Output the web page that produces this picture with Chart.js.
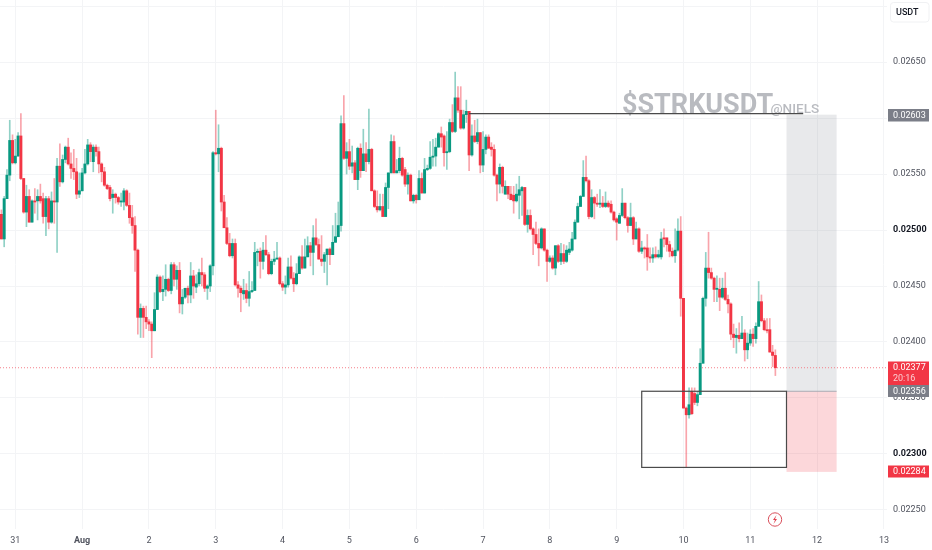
<!DOCTYPE html>
<html>
<head>
<meta charset="utf-8">
<title>STRKUSDT</title>
<script src="https://cdn.jsdelivr.net/npm/chart.js@4"></script>
<style>
html,body{margin:0;padding:0;background:#fff;}
canvas{display:block;}
</style>
</head>
<body>
<canvas id="charts" width="932" height="550"></canvas>
<script>
// all prices are in 0.00001 USDT, hourly candles, first one starts 5h before Jul 31
const opens = [2514,2492,2528,2549,2580,
2560,2566,2584,2546,2516,2530,2507,2526,2526,2530,
2528,2512,2528,2507,2526,2525,2557,2543,2563,2574,
2559,2555,2552,2532,2535,2551,2559,2576,2561,2574,
2570,2559,2552,2540,2538,2529,2532,2529,2525,2525,
2535,2522,2511,2504,2482,2422,2430,2422,2418,2416,
2410,2429,2458,2445,2447,2456,2446,2469,2456,2464,
2434,2440,2448,2442,2459,2449,2452,2462,2460,2448,
2450,2468,2569,2568,2573,2525,2502,2488,2477,2488,
2451,2448,2443,2446,2439,2445,2446,2480,2481,2472,
2482,2478,2461,2472,2474,2475,2452,2449,2451,2467,
2457,2452,2461,2476,2466,2476,2486,2480,2493,2487,
2474,2472,2478,2483,2478,2489,2494,2504,2595,2564,
2570,2557,2560,2545,2573,2553,2568,2561,2572,2535,
2521,2518,2521,2512,2538,2551,2579,2551,2553,2564,
2554,2541,2549,2526,2531,2527,2546,2533,2554,2555,
2565,2566,2574,2586,2584,2569,2570,2596,2588,2618,
2607,2591,2603,2606,2567,2584,2579,2587,2558,2572,
2583,2574,2572,2549,2541,2556,2532,2539,2532,2531,
2526,2531,2535,2538,2505,2513,2501,2496,2488,2484,
2501,2482,2472,2475,2466,2486,2472,2479,2472,2480,
2482,2492,2507,2521,2530,2547,2544,2512,2529,2524,
2523,2524,2521,2524,2523,2516,2510,2506,2513,2524,
2511,2504,2511,2492,2501,2481,2484,2484,2476,2475,
2478,2476,2476,2493,2493,2487,2481,2477,2482,2499,
2439,2341,2335,2356,2354,2346,2353,2381,2439,2466,
2462,2457,2447,2447,2440,2448,2438,2434,2407,2404,
2406,2403,2408,2393,2399,2407,2403,2414,2436,2419,
2411,2411,2391,2388];
const highs = [2518,2530,2554,2598,2585,
2581,2587,2604,2546,2540,2536,2527,2537,2536,2541,
2533,2530,2530,2534,2546,2564,2577,2567,2575,2582,
2569,2572,2564,2551,2555,2572,2581,2578,2576,2576,
2574,2560,2556,2541,2540,2536,2533,2530,2533,2537,
2536,2533,2522,2512,2483,2434,2432,2432,2420,2418,
2444,2460,2459,2459,2469,2457,2471,2471,2468,2471,
2447,2448,2450,2471,2464,2460,2465,2475,2462,2451,
2469,2570,2607,2594,2574,2531,2511,2497,2492,2492,
2454,2450,2456,2452,2463,2454,2489,2483,2484,2489,
2495,2480,2474,2481,2489,2476,2454,2459,2475,2477,
2462,2470,2477,2486,2492,2494,2489,2504,2510,2492,
2495,2480,2483,2484,2504,2515,2525,2602,2620,2578,
2581,2575,2562,2574,2577,2590,2578,2608,2573,2536,
2535,2532,2532,2542,2551,2585,2584,2563,2574,2565,
2556,2551,2550,2532,2532,2553,2551,2564,2558,2579,
2581,2582,2587,2592,2585,2588,2599,2612,2641,2628,
2628,2607,2616,2606,2594,2598,2599,2587,2588,2585,
2585,2578,2576,2550,2559,2557,2544,2539,2539,2539,
2541,2548,2539,2538,2518,2518,2502,2507,2501,2502,
2501,2483,2477,2477,2486,2487,2488,2487,2486,2489,
2498,2509,2524,2531,2562,2566,2545,2536,2530,2532,
2536,2530,2534,2526,2526,2517,2511,2515,2537,2524,
2512,2524,2512,2507,2502,2490,2485,2496,2484,2484,
2485,2482,2498,2501,2493,2490,2484,2501,2510,2512,
2439,2342,2359,2359,2359,2356,2394,2440,2480,2498,
2466,2458,2459,2457,2457,2462,2442,2435,2416,2412,
2417,2423,2411,2408,2411,2412,2417,2454,2442,2421,
2421,2421,2397,2393];
const lows = [2492,2485,2528,2544,2559,
2559,2566,2545,2515,2503,2507,2507,2515,2509,2524,
2506,2495,2501,2506,2506,2480,2539,2542,2560,2558,
2546,2545,2528,2529,2535,2550,2558,2561,2552,2566,
2551,2543,2539,2536,2526,2515,2524,2523,2521,2518,
2521,2506,2497,2463,2407,2404,2404,2412,2410,2386,
2410,2429,2444,2437,2441,2445,2443,2450,2447,2426,
2425,2439,2435,2435,2439,2444,2450,2450,2445,2438,
2445,2460,2567,2552,2517,2502,2487,2476,2475,2450,
2440,2427,2438,2435,2432,2444,2446,2468,2457,2465,
2477,2460,2460,2469,2474,2451,2446,2443,2449,2456,
2445,2451,2461,2465,2466,2476,2468,2460,2486,2474,
2468,2462,2451,2469,2478,2489,2494,2499,2563,2550,
2554,2551,2545,2536,2547,2553,2552,2559,2535,2520,
2516,2517,2512,2512,2519,2551,2551,2551,2551,2548,
2539,2532,2526,2524,2524,2527,2533,2533,2553,2554,
2557,2557,2574,2574,2557,2554,2569,2587,2587,2605,
2590,2590,2596,2553,2566,2578,2577,2551,2552,2568,
2573,2566,2548,2526,2533,2533,2532,2528,2527,2515,
2525,2510,2513,2504,2498,2500,2478,2487,2468,2483,
2481,2454,2471,2465,2460,2471,2469,2470,2471,2478,
2481,2492,2507,2521,2530,2543,2510,2511,2510,2521,
2520,2520,2520,2520,2515,2508,2491,2506,2512,2510,
2498,2504,2487,2492,2480,2479,2475,2464,2471,2471,
2475,2475,2474,2485,2481,2476,2476,2471,2481,2423,
2341,2288,2332,2335,2344,2343,2353,2381,2432,2457,
2456,2436,2436,2428,2439,2437,2426,2402,2395,2390,
2400,2403,2383,2385,2397,2396,2399,2414,2418,2410,
2408,2391,2378,2370];
const closes = [2492,2528,2549,2580,2560,
2566,2584,2546,2516,2530,2507,2526,2525,2530,2526,
2512,2528,2507,2526,2525,2557,2543,2563,2574,2559,
2555,2552,2532,2535,2551,2559,2576,2570,2574,2570,
2559,2552,2540,2537,2528,2532,2529,2525,2526,2535,
2522,2511,2504,2482,2422,2430,2422,2418,2416,2410,
2429,2458,2445,2447,2456,2446,2469,2456,2464,2434,
2440,2448,2442,2459,2450,2452,2462,2460,2448,2450,
2468,2569,2568,2573,2525,2502,2488,2477,2488,2451,
2448,2444,2446,2439,2445,2446,2480,2481,2472,2482,
2478,2461,2472,2474,2475,2452,2449,2451,2467,2457,
2452,2461,2476,2466,2476,2486,2480,2493,2487,2474,
2472,2478,2483,2478,2489,2494,2504,2595,2564,2570,
2557,2560,2545,2573,2553,2568,2561,2572,2535,2521,
2518,2521,2512,2538,2551,2579,2551,2553,2564,2549,
2541,2549,2526,2531,2527,2546,2533,2554,2555,2565,
2566,2574,2586,2583,2569,2570,2596,2588,2618,2607,
2591,2603,2606,2567,2584,2579,2587,2558,2572,2583,
2573,2572,2549,2541,2556,2539,2539,2532,2527,2526,
2532,2536,2538,2505,2513,2501,2496,2488,2484,2501,
2482,2472,2475,2466,2486,2472,2479,2472,2482,2483,
2492,2507,2521,2530,2547,2544,2512,2529,2524,2523,
2524,2521,2524,2521,2516,2509,2507,2513,2524,2511,
2504,2511,2492,2501,2481,2484,2483,2476,2475,2478,
2476,2478,2492,2492,2487,2481,2477,2482,2499,2439,
2341,2335,2344,2336,2346,2353,2381,2439,2466,2462,
2457,2447,2448,2440,2448,2438,2434,2407,2404,2406,
2403,2408,2393,2399,2407,2403,2414,2436,2419,2411,
2410,2391,2388,2377];

const dayLabels = ['31','Aug','2','3','4','5','6','7','8','9','10','11','12','13'];
const priceTicks = [2250,2300,2350,2400,2450,2500,2550,2600,2650,2700];

// drawing tools on the chart, hours counted from Jul 31 00:00
const targetPrice = 2603, entryPrice = 2356, stopPrice = 2284, lastPrice = 2377;
const positionFrom = 277, positionTo = 295;
const boxFrom = 225, boxTo = 277, boxTop = 2356, boxBottom = 2288;
const lineFrom = 163, lineTo = 283, linePrice = 2604;

const UP = '#089981', DOWN = '#f23645';
const UP_WICK = 'rgba(8,153,129,0.45)', DOWN_WICK = 'rgba(242,54,69,0.45)';
const FONT = 'Roboto, sans-serif';

const hours = opens.map((o, i) => i - 5);
const isUp = opens.map((o, i) => closes[i] >= o);

function fmt(v){
    return (v / 100000).toFixed(5);
}

function tag(ctx, y1, y2, color, lines){
    ctx.fillStyle = color;
    ctx.fillRect(888, y1, 41, y2 - y1);
    ctx.fillStyle = '#fff';
    ctx.font = '9px ' + FONT;
    ctx.textAlign = 'left';
    ctx.textBaseline = 'middle';
    lines.forEach(function(l, i){
        ctx.globalAlpha = i == 0 ? 1 : 0.75;
        ctx.fillText(l, 893, y1 + 6.3 + i * 11);
    });
    ctx.globalAlpha = 1;
}

const overlayBelow = {
    id: 'overlayBelow',
    beforeDatasetsDraw(chart){
        const ctx = chart.ctx, sx = chart.scales.x, sy = chart.scales.y;
        ctx.save();
        // position tool
        const x1 = sx.getPixelForValue(positionFrom), x2 = sx.getPixelForValue(positionTo);
        const yT = sy.getPixelForValue(targetPrice), yE = sy.getPixelForValue(entryPrice), yS = sy.getPixelForValue(stopPrice);
        ctx.fillStyle = 'rgba(120,123,134,0.17)';
        ctx.fillRect(x1, yT, x2 - x1, yE - yT);
        ctx.fillStyle = 'rgba(242,54,69,0.2)';
        ctx.fillRect(x1, yE, x2 - x1, yS - yE);
        ctx.fillStyle = '#a9abb2';
        ctx.fillRect(x1, yE - 0.5, x2 - x1, 1);

        // watermark
        ctx.fillStyle = '#b9bbc0';
        ctx.textAlign = 'left';
        ctx.textBaseline = 'alphabetic';
        ctx.font = 'bold 27px ' + FONT;
        ctx.fillText('$STRKUSDT', 622, 113);
        ctx.font = '500 13.5px ' + FONT;
        ctx.fillText('@NIELS', 770.5, 113);

        // last price line
        const yL = sy.getPixelForValue(lastPrice);
        ctx.strokeStyle = '#f57f8a';
        ctx.setLineDash([1, 2]);
        ctx.beginPath();
        ctx.moveTo(0, yL);
        ctx.lineTo(chart.chartArea.right, yL);
        ctx.stroke();
        ctx.restore();
    }
};

const overlayAbove = {
    id: 'overlayAbove',
    afterDraw(chart){
        const ctx = chart.ctx, sx = chart.scales.x, sy = chart.scales.y;
        ctx.save();
        ctx.strokeStyle = '#4a4a4a';
        ctx.lineWidth = 1.2;
        ctx.strokeRect(sx.getPixelForValue(boxFrom), sy.getPixelForValue(boxTop),
            sx.getPixelForValue(boxTo) - sx.getPixelForValue(boxFrom),
            sy.getPixelForValue(boxBottom) - sy.getPixelForValue(boxTop));
        ctx.beginPath();
        ctx.moveTo(sx.getPixelForValue(lineFrom), sy.getPixelForValue(linePrice));
        ctx.lineTo(sx.getPixelForValue(lineTo), sy.getPixelForValue(linePrice));
        ctx.stroke();

        // price tags on the right
        tag(ctx, 109, 121.5, '#7b7e88', [fmt(targetPrice)]);
        tag(ctx, 361.5, 385, '#f23645', [fmt(lastPrice), '20:16']);
        tag(ctx, 385, 397, '#7b7e88', [fmt(entryPrice)]);
        tag(ctx, 465.5, 477.5, '#f23645', [fmt(stopPrice)]);

        // currency box
        ctx.fillStyle = '#fff';
        ctx.strokeStyle = '#f0f1f3';
        ctx.lineWidth = 1;
        ctx.beginPath();
        ctx.roundRect(890.5, 2.5, 38.5, 19.5, 3);
        ctx.fill();
        ctx.stroke();
        ctx.fillStyle = '#131722';
        ctx.font = '500 9px ' + FONT;
        ctx.textAlign = 'left';
        ctx.textBaseline = 'middle';
        ctx.fillText('USDT', 896, 12.5);

        // lightning mark
        ctx.strokeStyle = '#d9505c';
        ctx.beginPath();
        ctx.arc(775, 519.5, 6.7, 0, Math.PI * 2);
        ctx.stroke();
        ctx.fillStyle = '#e0404e';
        ctx.beginPath();
        ctx.moveTo(776.5, 515);
        ctx.lineTo(773, 520);
        ctx.lineTo(775, 520);
        ctx.lineTo(773.5, 524);
        ctx.lineTo(777, 519);
        ctx.lineTo(775, 519);
        ctx.closePath();
        ctx.fill();
        ctx.restore();
    }
};

var ctx = document.getElementById('charts').getContext('2d');
var chart = new Chart(ctx, {
    type: 'bar',
    data: {
        datasets: [
            {
                label: 'body',
                data: hours.map((h, i) => ({x: h, y: [opens[i], closes[i]]})),
                backgroundColor: isUp.map(u => u ? UP : DOWN),
                barThickness: 2.3,
                order: 1
            },
            {
                label: 'wick',
                data: hours.map((h, i) => ({x: h, y: [lows[i], highs[i]]})),
                backgroundColor: isUp.map(u => u ? UP_WICK : DOWN_WICK),
                barThickness: 1,
                order: 2
            }
        ]
    },
    options: {
        responsive: false,
        animation: false,
        devicePixelRatio: 1,
        layout: {padding: 0},
        datasets: {bar: {grouped: false, borderWidth: 0, borderSkipped: false}},
        plugins: {
            legend: {display: false},
            tooltip: {enabled: false},
            title: {display: false}
        },
        scales: {
            x: {
                type: 'linear',
                position: 'bottom',
                offset: false,
                min: -5.5,
                max: 313.1,
                afterFit: function(s){
                    s.height = 21;
                    s.paddingLeft = 0;
                    s.paddingRight = 0;
                },
                afterBuildTicks: function(s){
                    s.ticks = dayLabels.map((d, i) => ({value: i * 24, label: d}));
                },
                grid: {color: '#f3f4f6', offset: false, drawTicks: false},
                border: {display: false},
                ticks: {
                    autoSkip: false,
                    maxRotation: 0,
                    padding: 6,
                    color: '#50535e',
                    callback: function(v){ return dayLabels[v / 24]; },
                    font: function(c){
                        return {family: FONT, size: 9, weight: c.index == 1 ? 'bold' : 'normal'};
                    }
                }
            },
            y: {
                type: 'linear',
                position: 'right',
                min: 2233,
                max: 2705.4,
                afterFit: function(s){
                    s.width = 45;
                    s.paddingTop = 0;
                    s.paddingBottom = 0;
                },
                afterBuildTicks: function(s){
                    s.ticks = priceTicks.map(v => ({value: v}));
                },
                grid: {color: '#f3f4f6', drawTicks: false},
                border: {display: false},
                ticks: {
                    padding: 6,
                    align: 'center',
                    crossAlign: 'near',
                    color: function(c){
                        return (c.tick.value == 2500 || c.tick.value == 2300) ? '#131722' : '#50535e';
                    },
                    callback: function(v){ return v == 2700 ? '' : fmt(v); },
                    font: function(c){
                        const strong = c.tick && (c.tick.value == 2500 || c.tick.value == 2300);
                        return {family: FONT, size: 9, weight: strong ? 'bold' : 'normal'};
                    }
                }
            }
        }
    },
    plugins: [overlayBelow, overlayAbove]
});
</script>
</body>
</html>
